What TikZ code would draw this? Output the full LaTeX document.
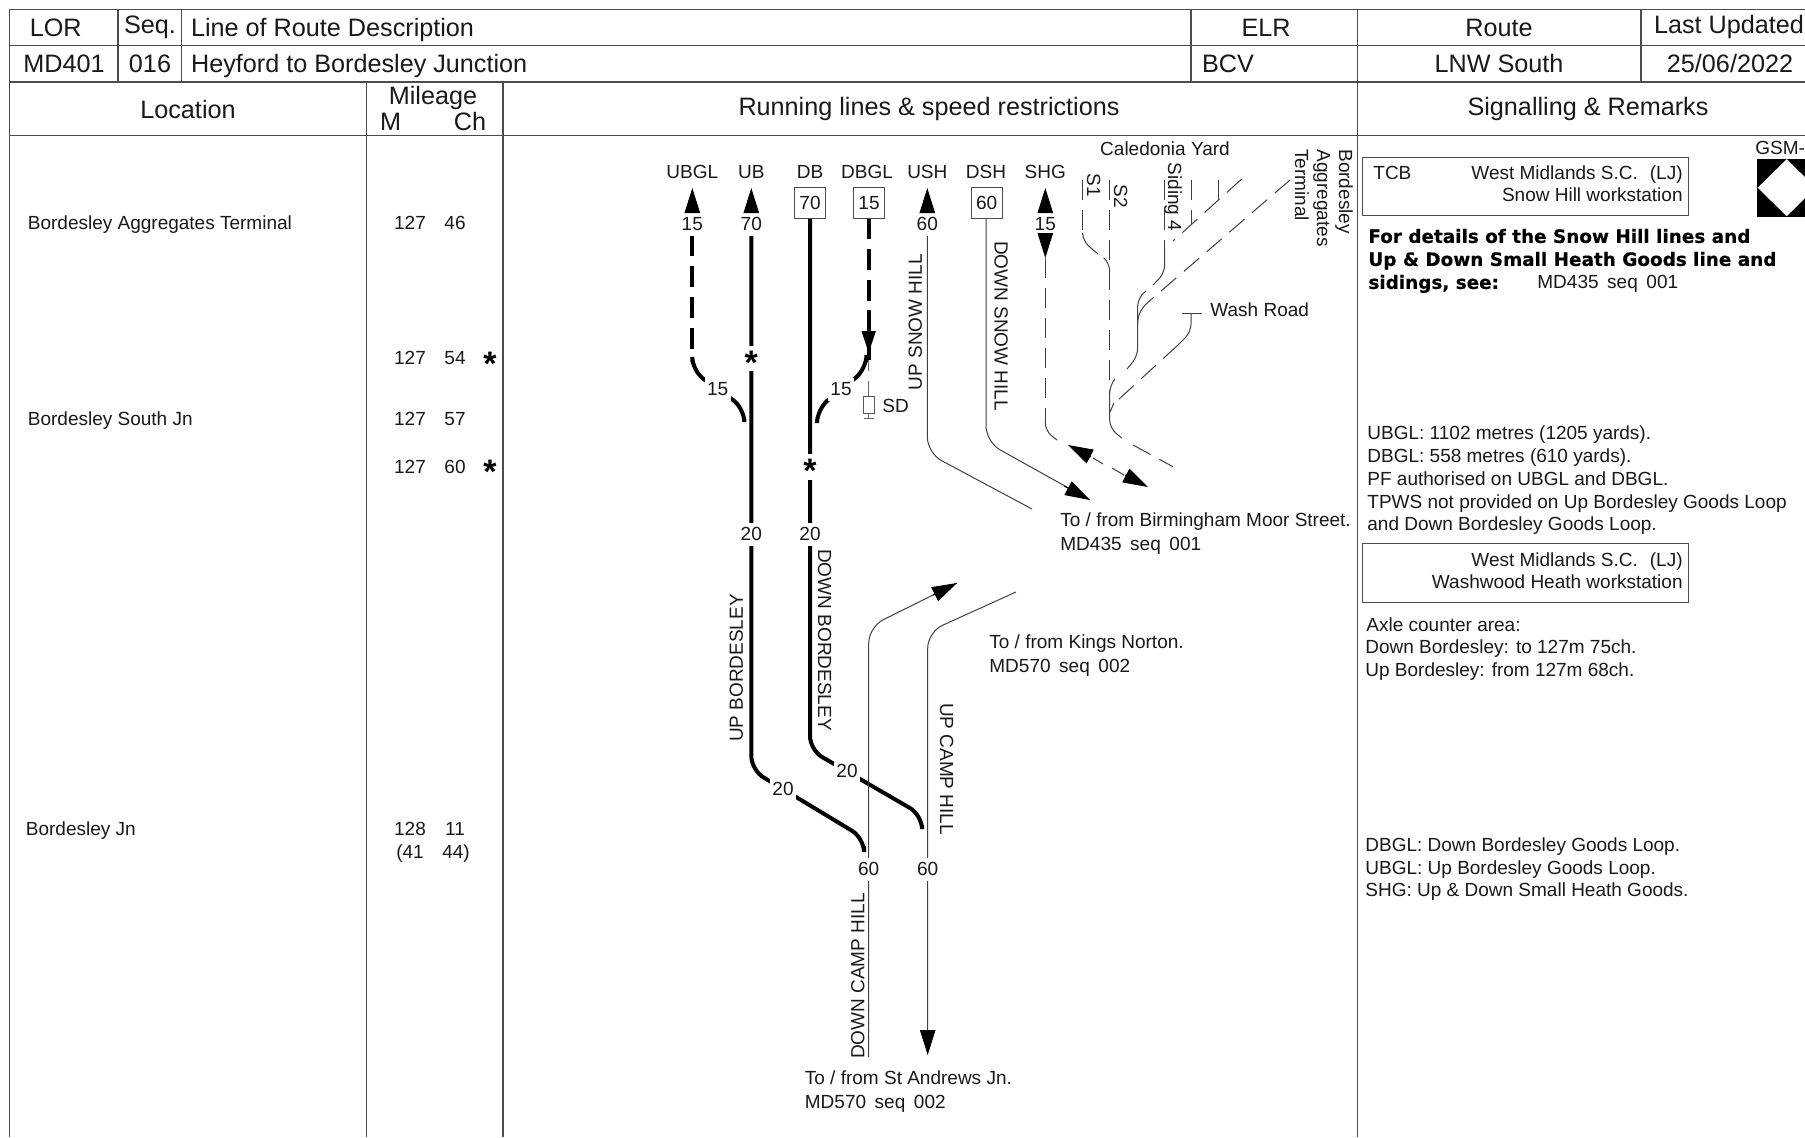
\documentclass[tikz,border=0pt]{standalone}
\usepackage{fontspec}
\setmainfont{Liberation Sans}
\newfontfamily\heavyfont[FakeBold=0.35]{DejaVu Sans Bold}
\usetikzlibrary{arrows.meta}
\newcommand{\gapp}{\hspace{4.3pt}}
\newcommand{\starglyph}{\raisebox{-.47em}{*}}
\tikzset{
 x=0.5pt,y=-0.5pt,
 grid/.style={draw=black!70,line width=0.6pt},
 hdr/.style={font=\fontsize{12.6}{14}\selectfont,inner sep=0pt,text=black!90,text height=8pt,text depth=0pt},
 txt/.style={font=\fontsize{9.5}{11}\selectfont,inner sep=0pt,text=black!90,text height=6.9pt,text depth=0pt},
 lft/.style={txt,anchor=west},
 rgt/.style={txt,anchor=east},
 boldtxt/.style={font=\fontsize{9.2}{11}\heavyfont,inner sep=0pt,anchor=west,text height=6.9pt,text depth=0pt},
 speed/.style={txt,fill=white,minimum width=13pt,minimum height=11.5pt},
 boxed/.style={txt,draw=black!70,line width=0.5pt,fill=white,minimum width=15.3pt,minimum height=15.3pt},
 starmark/.style={font=\fontsize{17}{17}\selectfont\bfseries,fill=white,inner sep=0pt,minimum width=11pt,text height=6.4pt,text depth=6.4pt},
 heavy/.style={line width=2pt,black,rounded corners=7pt},
 heavydash/.style={line width=2pt,black,dash pattern=on 10.5pt off 5pt},
 thin/.style={line width=0.5pt,black!75,rounded corners=8pt},
 thinj/.style={line width=0.5pt,black!75,rounded corners=4pt},
 thindash/.style={thin,dash pattern=on 10pt off 5pt},
 tipline/.style={line width=0.5pt,black,-{Triangle[length=12.5pt,width=7.7pt]}},
}
\begin{document}
\begin{tikzpicture}
\useasboundingbox (0,0) rectangle (1805,1137);
\clip (0,0) rectangle (1805,1137);
\fill[white] (0,0) rectangle (1805,1137);
% grid
\draw[grid] (1805,9.5) -- (9.5,9.5) -- (9.5,1137);
\draw[grid] (9.5,45.5) -- (1805,45.5);
\draw[grid] (9.5,82) -- (1805,82);
\draw[grid] (9.5,135.5) -- (1805,135.5);
\draw[grid] (118,9.5) -- (118,82);
\draw[grid] (181.5,9.5) -- (181.5,82);
\draw[grid] (1191,9.5) -- (1191,82);
\draw[grid] (1357.5,9.5) -- (1357.5,1137);
\draw[grid] (1641,9.5) -- (1641,82);
\draw[grid] (366.7,82) -- (366.7,1137);
\draw[grid] (503,82) -- (503,1137);
% header
\node[hdr] (hLOR) at (55.7,28) {LOR};
\node[hdr] (hSeq) at (150,25) {Seq.};
\node[hdr,anchor=west] (hDesc) at (190.7,28) {Line of Route Description};
\node[hdr] (hELR) at (1266,28) {ELR};
\node[hdr] (hRoute) at (1499,28) {Route};
\node[hdr] (hUpd) at (1729,25) {Last Updated};
\node[hdr] (vLOR) at (64,64) {MD401};
\node[hdr] (vSeq) at (150,64) {016};
\node[hdr,anchor=west] (vDesc) at (190.7,64) {Heyford to Bordesley Junction};
\node[hdr,anchor=west] (vELR) at (1201.6,64) {BCV};
\node[hdr] (vRoute) at (1499,64) {LNW South};
\node[hdr] (vUpd) at (1730,64) {25/06/2022};
\node[hdr] (hLoc) at (188,110) {Location};
\node[hdr] (hMil) at (433,96.7) {Mileage};
\node[hdr] (hM) at (390.7,122.5) {M};
\node[hdr] (hCh) at (470,122.5) {Ch};
\node[hdr] (hRun) at (929,107) {Running lines \& speed restrictions};
\node[hdr] (hSig) at (1588,107) {Signalling \& Remarks};
% locations
\node[lft] (l1) at (27.5,222.5) {Bordesley Aggregates Terminal};
\node[lft] (l2) at (27.5,418.5) {Bordesley South Jn};
\node[lft] (l3) at (25.5,829) {Bordesley Jn};
\node[txt] (m1a) at (410,223) {127}; \node[txt] (m1b) at (455,223) {46};
\node[txt] (m2a) at (410,358) {127}; \node[txt] (m2b) at (455,358) {54};
\node[txt] (m3a) at (410,419) {127}; \node[txt] (m3b) at (455,419) {57};
\node[txt] (m4a) at (410,467) {127}; \node[txt] (m4b) at (455,467) {60};
\node[txt] (m5a) at (410,829) {128}; \node[txt] (m5b) at (455,829) {11};
\node[txt] (m6a) at (410,852) {(41}; \node[txt] (m6b) at (456,852) {44)};
\node[starmark] (ms1) at (490,360) {\starglyph};
\node[starmark] (ms2) at (490,468) {\starglyph};
% running-line end points
\coordinate (ubglT) at (692.3,188);
\coordinate (ubT) at (751.3,188);
\coordinate (ushT) at (927.3,188);
\coordinate (shgT) at (1045.3,188);
\coordinate (shgB) at (1045.3,258);
% UBGL
\draw[heavydash] (692.3,235) -- (692.3,350);
\draw[heavy] (692.3,362) -- (692.3,371) -- (744.3,408) -- (744.3,419);
% UB
\draw[heavy] (751.3,235) -- (751.3,770) -- (864,838) -- (864,846);
% DB
\draw[heavy] (810,218) -- (810,750) -- (922,815) -- (922,825);
% crossover DBGL
\draw[heavydash] (868.7,218) -- (868.7,310);
\draw[line width=2pt,black] (868.7,310) -- (868.7,360);
\draw[heavy] (866.5,362) -- (866.5,369) -- (817,409) -- (817,420);
\fill[black] (861.5,331) -- (875.9,331) -- (868.7,353) -- cycle;
% SD
\draw[line width=0.5pt,black!60] (868.7,360) -- (868.7,371);
\draw[line width=0.5pt,black!60] (868.7,381) -- (868.7,418);
\draw[line width=0.4pt,black!65,fill=white] (863.3,396) rectangle (874,413);
\draw[line width=0.5pt,black!60] (864,418) -- (874,418);
% Snow Hill
\draw[thin] (927.3,234) -- (927.3,453) -- (1032,509);
\draw[thin] (986,218) -- (986,442) -- (1090,500);
\draw[tipline] (1064,486) -- (1090,500);
% SHG
\draw[thindash] (1045.3,258) -- (1045.3,420);
\draw[thinj] (1045.3,420) -- (1045.3,431) -- (1057,440);
\draw[line width=0.5pt,black!75] (1093,458) -- (1103,464);
\draw[line width=0.5pt,black!75] (1112,468) -- (1124,475);
\draw[tipline] (1091,457) -- (1068,445);
\draw[tipline] (1125,475) -- (1148,487);
% S2
\draw[thindash] (1109.7,180) -- (1109.7,420);
\draw[thinj] (1109.7,415) -- (1109.7,428) -- (1121.7,438);
\draw[thindash] (1133,445) -- (1173,466.7);
% S1
\draw[thindash] (1082.7,180) -- (1082.7,235);
\draw[thinj] (1082.7,235) -- (1082.7,241) -- (1098,254);
\draw[thinj] (1104,258) -- (1109.7,263) -- (1109.7,270);
% Siding 4
\draw[thindash] (1164.7,180) -- (1164.7,247);
\draw[thinj] (1164.7,247) -- (1164.7,273) -- (1153,285);
\draw[thinj] (1146,291) -- (1137.7,298) -- (1137.7,356) -- (1127,369);
\draw[thinj] (1114,380) -- (1109.7,385) -- (1109.7,415);
% Caledonia yard lead
\draw[thindash] (1241.7,179) -- (1173,241);
\draw[thindash] (1191,180) -- (1191,224);
\draw[thindash] (1218,180) -- (1218,200);
% Aggregates terminal
\draw[thindash] (1290,180) -- (1146,304);
\draw[thinj] (1146,304) -- (1137.7,314) -- (1137.7,325);
% Wash Road
\draw[line width=0.5pt,black!75] (1181.7,313.7) -- (1201.7,313.7);
\draw[thinj] (1191,313.7) -- (1191,332) -- (1178,345);
\draw[thindash] (1178,345) -- (1118,400);
\draw[thinj] (1114,403) -- (1110,412);
% Camp Hill
\draw[thin] (868.7,1057) -- (868.7,627) -- (957,583);
\draw[tipline] (933,595) -- (957,583);
\draw[thin] (927.7,1033) -- (927.7,632) -- (1016,592);
\draw[tipline] (927.7,1031) -- (927.7,1055);
% line-end labels
\node[txt] (nUBGL) at (692.3,171.7) {UBGL};
\node[txt] (nUB) at (751.3,171.7) {UB};
\node[txt] (nDB) at (810,171.7) {DB};
\node[txt] (nDBGL) at (867,171.7) {DBGL};
\node[txt] (nUSH) at (927.3,171.7) {USH};
\node[txt] (nDSH) at (986,171.7) {DSH};
\node[txt] (nSHG) at (1045.3,171.7) {SHG};
\node[speed] (sUBGL) at (692.3,224) {15};
\node[speed] (sUB) at (751.3,224) {70};
\node[boxed] (sDB) at (810,203) {70};
\node[boxed] (sDBGL) at (869,203) {15};
\node[speed] (sUSH) at (927.3,224) {60};
\node[boxed] (sDSH) at (986.7,203) {60};
\node[speed] (sSHG) at (1045.3,224) {15};
\draw[tipline] (sUBGL.north) -- (ubglT);
\draw[tipline] (sUB.north) -- (ubT);
\draw[tipline] (sUSH.north) -- (ushT);
\draw[tipline] (sSHG.north) -- (shgT);
\draw[tipline] (sSHG.south) -- (shgB);
\node[speed] (sX1) at (717.7,389) {15};
\node[speed] (sX2) at (841,389) {15};
\node[starmark] (stUB) at (751.3,358.5) {\starglyph};
\node[starmark] (stDB) at (810,467) {\starglyph};
\node[speed] (sUB2) at (751.3,534) {20};
\node[speed] (sDB2) at (810,534) {20};
\node[speed] (sUB3) at (783,789) {20};
\node[speed] (sDB3) at (847,771) {20};
\node[speed] (sCamp1) at (868.7,869) {60};
\node[speed] (sCamp2) at (927.7,869) {60};
\node[lft] (tSD) at (882,406) {SD};
% rotated line names
\node[txt,rotate=90] (tUSH) at (915,322) {UP SNOW HILL};
\node[txt,rotate=-90] (tDSH) at (1001.5,326) {DOWN SNOW HILL};
\node[txt,rotate=90] (tUB) at (736,668) {UP BORDESLEY};
\node[txt,rotate=-90] (tDB) at (825,640) {DOWN BORDESLEY};
\node[txt,rotate=-90] (tUC) at (947,769) {UP CAMP HILL};
\node[txt,rotate=90] (tDC) at (857.5,976) {DOWN CAMP HILL};
\node[txt,rotate=-90] (tS1) at (1094,185) {S1};
\node[txt,rotate=-90] (tS2) at (1121,196) {S2};
\node[txt,rotate=-90] (tS4) at (1175,197) {Siding 4};
\node[txt] (tCal) at (1165,149) {Caledonia Yard};
\node[txt,rotate=-90,anchor=west] (tBA1) at (1346,149) {Bordesley};
\node[txt,rotate=-90,anchor=west] (tBA2) at (1324,149) {Aggregates};
\node[txt,rotate=-90,anchor=west] (tBA3) at (1302,149) {Terminal};
\node[lft] (tWash) at (1210,310) {Wash Road};
\node[lft] (tMS1) at (1060,520) {To / from Birmingham Moor Street.};
\node[lft] (tMS2) at (1060,544) {MD435\gapp seq\gapp 001};
\node[lft] (tKN1) at (989,642) {To / from Kings Norton.};
\node[lft] (tKN2) at (989,666) {MD570\gapp seq\gapp 002};
\node[lft] (tSA1) at (804.5,1078) {To / from St Andrews Jn.};
\node[lft] (tSA2) at (804.5,1102) {MD570\gapp seq\gapp 002};
% remarks
\draw[line width=0.5pt,draw=black!70] (1362,157) rectangle (1688,215);
\node[lft] (rTCB) at (1373,173) {TCB};
\node[rgt] (rWM1) at (1683,173) {West Midlands S.C.\hspace{6pt}(LJ)};
\node[rgt] (rSH) at (1683,195) {Snow Hill workstation};
\node[boldtxt] (rB1) at (1368,236) {For details of the Snow Hill lines and};
\node[boldtxt] (rB2) at (1368,259) {Up \& Down Small Heath Goods line and};
\node[boldtxt] (rB3) at (1368,282) {sidings, see:};
\node[lft] (rRef) at (1537,282) {MD435\gapp seq\gapp 001};
\node[lft] (rGSM) at (1755,148) {GSM-};
\fill[black] (1757,158.7) rectangle (1816,216.7);
\fill[white] (1757.7,187.7) -- (1786.7,159.2) -- (1815.7,187.7) -- (1786.7,216.2) -- cycle;
\node[lft] (r1) at (1367,433) {UBGL: 1102 metres (1205 yards).};
\node[lft] (r2) at (1367,456) {DBGL: 558 metres (610 yards).};
\node[lft] (r3) at (1367,479) {PF authorised on UBGL and DBGL.};
\node[lft] (r4) at (1367,502) {TPWS not provided on Up Bordesley Goods Loop};
\node[lft] (r5) at (1367,524) {and Down Bordesley Goods Loop.};
\draw[line width=0.5pt,draw=black!70] (1362,543) rectangle (1688.6,602);
\node[rgt] (rWM2) at (1683,560) {West Midlands S.C.\hspace{6pt}(LJ)};
\node[rgt] (rWH) at (1683,582) {Washwood Heath workstation};
\node[lft] (r6) at (1366,625) {Axle counter area:};
\node[lft] (r7) at (1365,647) {Down Bordesley: to 127m 75ch.};
\node[lft] (r8) at (1365,670) {Up Bordesley: from 127m 68ch.};
\node[lft] (r9) at (1365,845) {DBGL: Down Bordesley Goods Loop.};
\node[lft] (r10) at (1365,868) {UBGL: Up Bordesley Goods Loop.};
\node[lft] (r11) at (1365,890) {SHG: Up \& Down Small Heath Goods.};
\end{tikzpicture}
\end{document}
